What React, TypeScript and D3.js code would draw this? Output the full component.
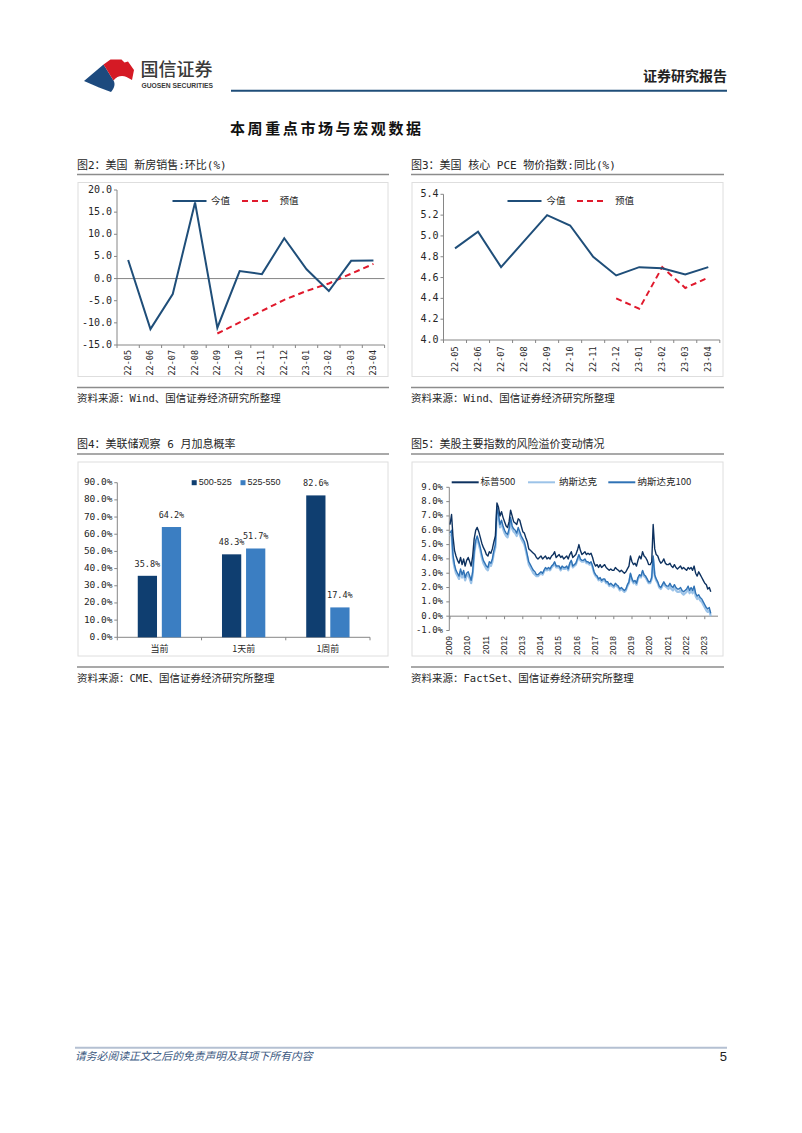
import React from 'react';
import * as d3 from 'd3';

// ---- data ----
const months = ['22-05', '22-06', '22-07', '22-08', '22-09', '22-10', '22-11', '22-12', '23-01', '23-02', '23-03', '23-04'];

// 图2 新房销售 环比 (%)
const homeSalesActual = [4.2, -11.4, -3.5, 17.2, -11.1, 1.7, 1.0, 9.1, 2.1, -2.8, 4.0, 4.1];
const homeSalesForecast = [null, null, null, null, -12.4, -9.9, -7.3, -4.8, -2.8, -1.1, 1.1, 3.3];
const homeSalesTicks = [-15, -10, -5, 0, 5, 10, 15, 20];

// 图3 核心 PCE 同比 (%)
const pceActual = [4.88, 5.04, 4.7, 4.95, 5.2, 5.1, 4.8, 4.62, 4.7, 4.69, 4.63, 4.7];
const pceForecast = [null, null, null, null, null, null, null, 4.4, 4.3, 4.7, 4.5, 4.6];
const pceTicks = [4.0, 4.2, 4.4, 4.6, 4.8, 5.0, 5.2, 5.4];

// 图4 美联储观察
const fedCategories = ['当前', '1天前', '1周前'];
const fedSeries = ['500-525', '525-550'];
const prob500to525 = [35.8, 48.3, 82.6];
const prob525to550 = [64.2, 51.7, 17.4];
const fedTicks = [0, 10, 20, 30, 40, 50, 60, 70, 80, 90];

// 图5 风险溢价, monthly from 2009-01 to 2023-05
const erpStartYear = 2009;
const spx = [
  6.4, 7.1, 5.6, 4.6, 4.2, 3.9, 3.7, 4.1, 3.6, 4.0, 3.5, 3.9,
  4.1, 3.8, 3.5, 4.2, 5.4, 6.0, 6.2, 5.9, 5.5, 5.1, 4.8, 4.6,
  4.3, 4.2, 4.5, 4.4, 4.7, 5.2, 5.6, 7.9, 7.6, 7.0, 7.3, 6.9,
  6.6, 6.3, 6.2, 6.6, 7.4, 7.0, 6.6, 6.5, 6.4, 6.8, 6.7, 6.3,
  5.9, 5.8, 5.5, 5.2, 4.7, 4.6, 4.5, 4.4, 4.3, 4.1, 4.0, 4.1,
  4.2, 4.0, 4.1, 4.2, 4.0, 4.1, 4.0, 4.2, 4.3, 4.5, 4.1, 4.2,
  4.3, 4.1, 4.2, 4.0, 4.1, 4.2, 4.0, 4.3, 4.5, 4.1, 4.2, 4.3,
  4.6, 5.0, 4.6, 4.3, 4.4, 4.5, 4.3, 4.4, 4.3, 4.4, 4.1, 3.7,
  3.5, 3.6, 3.4, 3.6, 3.4, 3.5, 3.6, 3.4, 3.3, 3.2, 3.3, 3.2,
  3.2, 3.4, 3.3, 3.2, 3.1, 3.2, 3.1, 3.0, 3.1, 3.3, 3.5, 4.2,
  3.8, 3.6, 3.7, 3.5, 3.9, 4.2, 4.0, 4.5, 4.2, 4.1, 3.9, 3.6,
  3.6, 3.8, 6.4, 4.7, 4.3, 4.2, 3.9, 3.7, 3.8, 4.0, 3.7, 3.6,
  3.6, 3.7, 3.5, 3.4, 3.6, 3.4, 3.3, 3.4, 3.5, 3.3, 3.4, 3.3,
  3.2, 3.4, 3.3, 3.4, 3.2, 3.5, 3.0, 2.8, 3.1, 2.9, 2.7, 2.5,
  2.3, 2.2, 1.9, 2.0, 1.7,
];
const nasdaq = [
  5.6, 5.7, 4.0, 3.4, 3.0, 2.8, 2.6, 3.1, 2.7, 3.0, 2.5, 2.8,
  2.9, 2.6, 2.3, 2.9, 4.3, 5.1, 5.4, 5.0, 4.6, 4.1, 3.7, 3.5,
  3.3, 3.2, 3.6, 3.5, 3.8, 4.4, 4.8, 7.4, 6.9, 6.2, 6.5, 6.1,
  5.8, 5.6, 5.5, 5.9, 6.7, 6.1, 5.9, 5.8, 5.6, 6.0, 5.7, 5.4,
  5.2, 5.0, 4.6, 4.1, 3.6, 3.4, 3.2, 3.0, 2.9, 2.8, 2.8, 2.9,
  3.0, 2.9, 3.1, 3.3, 3.2, 3.3, 3.2, 3.4, 3.5, 3.7, 3.4, 3.4,
  3.4, 3.2, 3.4, 3.3, 3.3, 3.4, 3.2, 3.6, 3.8, 3.4, 3.5, 3.6,
  3.9, 4.2, 3.9, 3.8, 3.8, 3.9, 3.7, 3.7, 3.6, 3.7, 3.4, 3.0,
  2.8, 2.7, 2.5, 2.6, 2.4, 2.5, 2.5, 2.3, 2.3, 2.1, 2.2, 2.1,
  2.0, 2.2, 2.1, 2.0, 1.8, 1.9, 1.8, 1.7, 1.8, 2.1, 2.3, 2.9,
  2.5, 2.3, 2.4, 2.2, 2.6, 2.8, 2.7, 3.1, 2.8, 2.7, 2.5, 2.3,
  2.3, 2.6, 4.0, 2.8, 2.5, 2.3, 2.0, 1.9, 2.1, 2.3, 2.1, 2.0,
  1.9, 2.1, 1.9, 1.8, 2.0, 1.8, 1.7, 1.7, 1.8, 1.6, 1.5, 1.6,
  1.7, 1.9, 1.6, 1.8, 1.6, 1.9, 1.4, 1.2, 1.3, 1.1, 1.0, 0.8,
  0.6, 0.4, 0.3, 0.4, 0.0,
];
const ndx = [
  5.8, 6.0, 4.3, 3.6, 3.2, 3.0, 2.8, 3.3, 2.9, 3.2, 2.7, 3.0,
  3.1, 2.8, 2.5, 3.1, 4.5, 5.3, 5.6, 5.2, 4.8, 4.3, 3.9, 3.7,
  3.5, 3.4, 3.8, 3.7, 4.0, 4.6, 5.0, 7.6, 7.1, 6.4, 6.7, 6.3,
  6.0, 5.8, 5.7, 6.1, 6.9, 6.3, 6.1, 6.0, 5.8, 6.2, 5.9, 5.6,
  5.4, 5.2, 4.8, 4.3, 3.8, 3.6, 3.4, 3.2, 3.1, 2.9, 2.9, 3.0,
  3.1, 3.0, 3.2, 3.4, 3.3, 3.4, 3.3, 3.5, 3.6, 3.8, 3.5, 3.5,
  3.5, 3.3, 3.5, 3.4, 3.4, 3.5, 3.3, 3.7, 3.9, 3.5, 3.6, 3.7,
  4.0, 4.3, 4.0, 3.9, 3.9, 4.0, 3.8, 3.8, 3.7, 3.8, 3.5, 3.1,
  2.9, 2.8, 2.6, 2.7, 2.5, 2.6, 2.6, 2.4, 2.4, 2.2, 2.3, 2.2,
  2.1, 2.3, 2.2, 2.1, 1.9, 2.0, 1.9, 1.8, 1.9, 2.2, 2.4, 3.0,
  2.6, 2.4, 2.5, 2.3, 2.7, 2.9, 2.8, 3.2, 2.9, 2.8, 2.6, 2.4,
  2.4, 2.7, 4.2, 2.9, 2.6, 2.4, 2.1, 2.0, 2.2, 2.4, 2.2, 2.1,
  2.1, 2.3, 2.1, 2.0, 2.2, 2.0, 1.9, 1.9, 2.0, 1.8, 1.7, 1.8,
  1.9, 2.1, 1.8, 2.0, 1.8, 2.1, 1.6, 1.4, 1.5, 1.3, 1.2, 1.0,
  0.8, 0.6, 0.5, 0.6, 0.2,
];
const erpTicks = [-1, 0, 1, 2, 3, 4, 5, 6, 7, 8, 9];
const erpYears = ['2009', '2010', '2011', '2012', '2013', '2014', '2015', '2016', '2017', '2018', '2019', '2020', '2021', '2022', '2023'];

// ---- styles ----
const MONO = '"DejaVu Sans Mono", "Noto Sans CJK SC", monospace';
const CJK = '"Noto Sans CJK SC", sans-serif';
const SANS = '"Liberation Sans", Arial, "Noto Sans CJK SC", sans-serif';
const AXIS = '#868686';
const RULE = '#8c8c8c';
const TEXT = '#262626';
const LINE_BLUE = '#1f4e79';
const DASH_RED = '#e0192c';

// title, rule, frame and source line around each figure
function Panel({ x0, x1, top, title, source }: { x0: number; x1: number; top: number; title: string; source: string }) {
  return (
    <g>
      <text x={x0} y={top} fontFamily={MONO} fontSize={11} fill={TEXT} dominantBaseline="middle">{title}</text>
      <line x1={x0} x2={x1} y1={top + 9} y2={top + 9} stroke={RULE} strokeWidth={1.5} />
      <rect x={x0 + 1} y={top + 17} width={x1 - x0 - 2} height={194} fill="none" stroke="#dedede" strokeWidth={1} />
      <line x1={x0} x2={x1} y1={top + 222} y2={top + 222} stroke={RULE} strokeWidth={1.5} />
      <text x={x0} y={top + 233.5} fontFamily={MONO} fontSize={10.5} fill={TEXT} dominantBaseline="middle">{source}</text>
    </g>
  );
}

type LineChartProps = {
  xRange: [number, number];
  yDomain: [number, number];
  yRange: [number, number];
  ticks: number[];
  actual: number[];
  forecast: (number | null)[];
  zeroLine: boolean;
  labelTop: number;
  legendY: number;
  legendX: [number, number, number, number];
};

function LineChart(p: LineChartProps) {
  const x = d3.scaleBand<string>().domain(months).range(p.xRange);
  const y = d3.scaleLinear().domain(p.yDomain).range(p.yRange);
  const bw = x.bandwidth();
  const cx = (i: number) => (x(months[i]) as number) + bw / 2;
  const line = d3
    .line<number | null>()
    .defined((v) => v != null)
    .x((_, i) => cx(i))
    .y((v) => y(v as number));
  const [ax0, ax1] = p.xRange;
  const yBottom = y(p.yDomain[0]);
  const [l0, l1, l2, l3] = p.legendX;
  return (
    <g>
      {/* y axis */}
      <line x1={ax0} x2={ax0} y1={p.yRange[1]} y2={p.yRange[0]} stroke={AXIS} />
      {p.ticks.map((t) => (
        <g key={t}>
          <line x1={ax0 - 3} x2={ax0} y1={y(t)} y2={y(t)} stroke={AXIS} />
          <text x={ax0 - 5} y={y(t)} textAnchor="end" dominantBaseline="middle" fontFamily={MONO} fontSize={10} fill={TEXT}>
            {t.toFixed(1)}
          </text>
        </g>
      ))}
      {/* category axis */}
      {p.zeroLine && <line x1={ax0} x2={ax1} y1={y(0)} y2={y(0)} stroke={AXIS} />}
      <line x1={ax0} x2={ax1} y1={yBottom} y2={yBottom} stroke={AXIS} />
      {d3.range(months.length + 1).map((i) => (
        <line key={i} x1={ax0 + i * bw} x2={ax0 + i * bw} y1={yBottom} y2={yBottom + 3} stroke={AXIS} />
      ))}
      {months.map((m, i) => (
        <text
          key={m}
          transform={`translate(${cx(i)},${p.labelTop}) rotate(-90)`}
          textAnchor="end"
          dominantBaseline="middle"
          fontFamily={MONO}
          fontSize={8.5}
          fill={TEXT}
        >
          {m}
        </text>
      ))}
      <path d={line(p.forecast) || ''} fill="none" stroke={DASH_RED} strokeWidth={2} strokeDasharray="6 4" />
      <path d={line(p.actual) || ''} fill="none" stroke={LINE_BLUE} strokeWidth={2} />
      {/* legend */}
      <line x1={l0} x2={l0 + 34} y1={p.legendY} y2={p.legendY} stroke={LINE_BLUE} strokeWidth={2} />
      <text x={l1} y={p.legendY} dominantBaseline="middle" fontFamily={CJK} fontSize={9.5} fill={TEXT}>今值</text>
      <line x1={l2} x2={l2 + 30} y1={p.legendY} y2={p.legendY} stroke={DASH_RED} strokeWidth={2} strokeDasharray="6 4" />
      <text x={l3} y={p.legendY} dominantBaseline="middle" fontFamily={CJK} fontSize={9.5} fill={TEXT}>预值</text>
    </g>
  );
}

function FedChart() {
  const x = d3.scaleBand<string>().domain(fedCategories).range([117.3, 370]);
  const inner = d3.scaleBand<string>().domain(fedSeries).range([0, x.bandwidth()]).paddingInner(0.2).paddingOuter(0.85);
  const y = d3.scaleLinear().domain([0, 90]).range([637.3, 482.7]);
  const colors = ['#0f3e70', '#3b7ec2'];
  const values = [prob500to525, prob525to550];
  return (
    <g>
      <line x1={117.3} x2={117.3} y1={y(90)} y2={y(0)} stroke={AXIS} />
      {fedTicks.map((t) => (
        <g key={t}>
          <line x1={114.3} x2={117.3} y1={y(t)} y2={y(t)} stroke={AXIS} />
          <text x={112.5} y={y(t)} textAnchor="end" dominantBaseline="middle" fontFamily={MONO} fontSize={9.5} fill={TEXT}>
            {`${t.toFixed(1)}%`}
          </text>
        </g>
      ))}
      <line x1={117.3} x2={370} y1={y(0)} y2={y(0)} stroke={AXIS} />
      {d3.range(fedCategories.length + 1).map((i) => (
        <line key={i} x1={117.3 + i * x.step()} x2={117.3 + i * x.step()} y1={y(0)} y2={y(0) + 3} stroke={AXIS} />
      ))}
      {fedCategories.map((c, ci) => (
        <g key={c}>
          {fedSeries.map((s, si) => {
            const v = values[si][ci];
            const bx = (x(c) as number) + (inner(s) as number);
            return (
              <g key={s}>
                <rect x={bx} y={y(v)} width={inner.bandwidth()} height={y(0) - y(v)} fill={colors[si]} />
                <text x={bx + inner.bandwidth() / 2} y={y(v) - 9} textAnchor="middle" fontFamily={MONO} fontSize={8.5} fill={TEXT}>
                  {`${v.toFixed(1)}%`}
                </text>
              </g>
            );
          })}
          <text x={(x(c) as number) + x.bandwidth() / 2} y={649.5} textAnchor="middle" dominantBaseline="middle" fontFamily={CJK} fontSize={9} fill={TEXT}>
            {c}
          </text>
        </g>
      ))}
      {fedSeries.map((s, si) => {
        const lx = [191.7, 240.5][si];
        return (
          <g key={s}>
            <rect x={lx} y={480.2} width={5} height={5} fill={colors[si]} />
            <text x={lx + 7} y={482.7} dominantBaseline="middle" fontFamily={SANS} fontSize={9} fill={TEXT}>{s}</text>
          </g>
        );
      })}
    </g>
  );
}

function RiskPremiumChart() {
  const dates = spx.map((_, i) => new Date(erpStartYear, i, 1));
  const x = d3.scaleTime().domain([new Date(2009, 0, 1), new Date(2023, 0, 1)]).range([450, 704.8]);
  const y = d3.scaleLinear().domain([-1, 9]).range([630.5, 487.3]);
  const line = d3
    .line<number>()
    .x((_, i) => x(dates[i]))
    .y((v) => y(v))
    .curve(d3.curveLinear);
  const series = [
    { name: '标普500', values: spx, color: '#0d315f', width: 1.4, lx: 451.7, tx: 480.5 },
    { name: '纳斯达克', values: nasdaq, color: '#9cc3e8', width: 2.2, lx: 528, tx: 559 },
    { name: '纳斯达克100', values: ndx, color: '#2f72b5', width: 1.4, lx: 608.3, tx: 637.5 },
  ];
  const drawOrder = [1, 2, 0];
  return (
    <g>
      <line x1={449.3} x2={449.3} y1={y(9)} y2={y(-1)} stroke={AXIS} />
      {erpTicks.map((t) => (
        <g key={t}>
          <line x1={446.3} x2={449.3} y1={y(t)} y2={y(t)} stroke={AXIS} />
          <text x={443} y={y(t)} textAnchor="end" dominantBaseline="middle" fontFamily={MONO} fontSize={9} fill={TEXT}>
            {`${t.toFixed(1)}%`}
          </text>
        </g>
      ))}
      <line x1={449.3} x2={718} y1={y(0)} y2={y(0)} stroke={AXIS} />
      {erpYears.map((yr) => {
        const xx = x(new Date(+yr, 0, 1));
        return (
          <g key={yr}>
            <line x1={xx} x2={xx} y1={y(0)} y2={y(0) + 3} stroke={AXIS} />
            <text
              transform={`translate(${xx},636) rotate(-90)`}
              textAnchor="end"
              dominantBaseline="middle"
              fontFamily={SANS}
              fontSize={8.5}
              fill={TEXT}
            >
              {yr}
            </text>
          </g>
        );
      })}
      {drawOrder.map((k) => (
        <path key={k} d={line(series[k].values) || ''} fill="none" stroke={series[k].color} strokeWidth={series[k].width} strokeLinejoin="round" />
      ))}
      {series.map((s) => (
        <g key={s.name}>
          <line x1={s.lx} x2={s.lx + 27} y1={482.3} y2={482.3} stroke={s.color} strokeWidth={2} />
          <text x={s.tx} y={482.3} dominantBaseline="middle" fontFamily={CJK} fontSize={9.5} fill={TEXT}>{s.name}</text>
        </g>
      ))}
    </g>
  );
}

function Header() {
  return (
    <g>
      <path d="M84,81 L103.5,64.5 C107,70 110,75 113.5,80.5 C115.5,84 114.5,88 111,92 L99,87.5 Z" fill="#1d4a7e" />
      <path
        d="M103.5,64.5 L110.5,59.5 L121.5,59.5 L124.5,62.5 L128,61.5 L134,70 L132,80 L126.5,77 C122,75 117,76 113.5,80.5 C110,75 107,70 103.5,64.5 Z"
        fill="#d51a25"
      />
      <text x={140.5} y={71} dominantBaseline="middle" fontFamily={CJK} fontSize={18} fill="#3a3a3a" fontWeight={500}>国信证券</text>
      <text x={141.5} y={86} dominantBaseline="middle" fontFamily={SANS} fontSize={7} fill="#3a3a3a" fontWeight={700} textLength={71.5} lengthAdjust="spacingAndGlyphs">
        GUOSEN SECURITIES
      </text>
      <text x={727} y={77.5} textAnchor="end" dominantBaseline="middle" fontFamily={CJK} fontSize={14} fontWeight={700} fill="#222">证券研究报告</text>
      <line x1={231} x2={727} y1={90.7} y2={90.7} stroke="#1f4e79" strokeWidth={2} />
      <text x={230} y={130} dominantBaseline="middle" fontFamily={CJK} fontSize={15} fontWeight={700} letterSpacing={2.6} fill="#111">本周重点市场与宏观数据</text>
    </g>
  );
}

function Footer() {
  return (
    <g>
      <line x1={75} x2={727} y1={1047.7} y2={1047.7} stroke="#b4c0d2" strokeWidth={2} />
      <text x={75} y={1057.5} dominantBaseline="middle" fontFamily={CJK} fontSize={10.8} fontStyle="italic" fill="#3d5a82">
        请务必阅读正文之后的免责声明及其项下所有内容
      </text>
      <text x={727} y={1058} textAnchor="end" dominantBaseline="middle" fontFamily={SANS} fontSize={13} fill="#222">5</text>
    </g>
  );
}

export default function App() {
  return (
    <div style={{ position: 'absolute', left: 0, top: 0, width: 802, height: 1133, background: '#fff' }}>
      <svg width={802} height={1133} style={{ display: 'block' }}>
        <rect width={802} height={1133} fill="#fff" />
        <Header />
        <Panel x0={77} x1={389} top={165.5} title="图2：美国 新房销售:环比(%)" source="资料来源：Wind、国信证券经济研究所整理" />
        <Panel x0={411} x1={724} top={165.5} title="图3：美国 核心 PCE 物价指数:同比(%)" source="资料来源：Wind、国信证券经济研究所整理" />
        <Panel x0={77} x1={389} top={445} title="图4：美联储观察 6 月加息概率" source="资料来源：CME、国信证券经济研究所整理" />
        <Panel x0={411} x1={724} top={445} title="图5：美股主要指数的风险溢价变动情况" source="资料来源：FactSet、国信证券经济研究所整理" />
        <LineChart
          xRange={[117, 384.6]}
          yDomain={[-15, 20]}
          yRange={[345, 190]}
          ticks={homeSalesTicks}
          actual={homeSalesActual}
          forecast={homeSalesForecast}
          zeroLine
          labelTop={350}
          legendY={201}
          legendX={[172.5, 211, 242, 279.5]}
        />
        <LineChart
          xRange={[443.5, 719.8]}
          yDomain={[4.0, 5.4]}
          yRange={[340, 194.3]}
          ticks={pceTicks}
          actual={pceActual}
          forecast={pceForecast}
          zeroLine={false}
          labelTop={346.5}
          legendY={201}
          legendX={[507.5, 546.5, 577, 615]}
        />
        <FedChart />
        <RiskPremiumChart />
        <Footer />
      </svg>
    </div>
  );
}
